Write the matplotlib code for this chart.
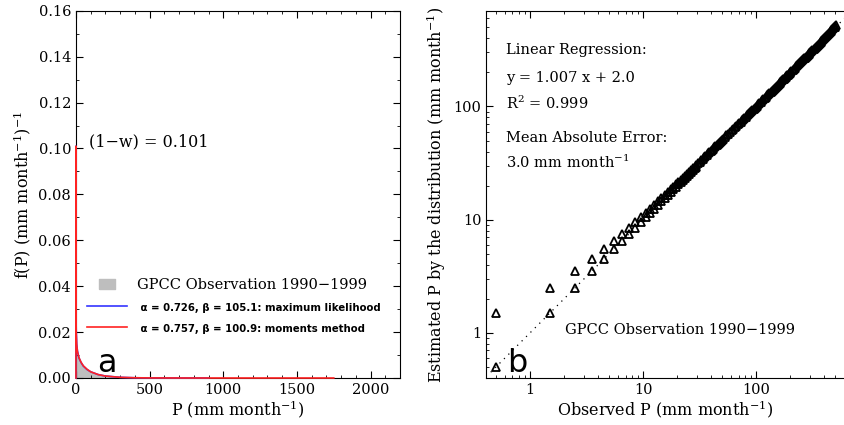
import numpy as np
import matplotlib
matplotlib.use('Agg')
import matplotlib.pyplot as plt
from matplotlib.lines import Line2D
from matplotlib.ticker import MultipleLocator, LogLocator, FuncFormatter, NullFormatter

plt.rcParams['font.family'] = 'DejaVu Serif'
plt.rcParams['mathtext.fontset'] = 'dejavuserif'

# %% panel a: observed histogram (10 mm bins) and fitted mixed gamma pdfs
hist_edges = [0, 10, 20, 30, 40, 50, 60, 70, 80, 90, 100, 110, 120, 130, 140, 150,
              160, 170, 180, 190, 200, 220, 240, 260, 280, 300, 340]
hist_dens = [0.0125, 0.0095, 0.0078, 0.0066, 0.0056, 0.0048, 0.0042, 0.0036, 0.0031,
             0.0027, 0.0024, 0.0021, 0.0018, 0.0016, 0.0014, 0.0012, 0.0011, 0.0009,
             0.0008, 0.0007, 0.0006, 0.0005, 0.0004, 0.0003, 0.00025, 0.0002]

p_ml = [0, 0, 1, 2, 5, 10, 20, 35, 50, 75, 100, 150, 200, 300, 400, 500, 700, 900]
f_ml = [0, 0.101, 0.0241, 0.0205, 0.0149, 0.0118, 0.0088, 0.0067, 0.0052, 0.0037,
        0.0027, 0.0015, 0.00085, 0.00029, 0.0001, 0.00004, 0.000005, 0]
p_mm = [0, 0, 1, 2, 5, 10, 20, 35, 50, 75, 100, 150, 200, 300, 400, 500, 750, 1000, 1750]
f_mm = [0, 0.101, 0.0222, 0.0190, 0.0144, 0.0116, 0.0089, 0.0068, 0.0053, 0.0038,
        0.0027, 0.0015, 0.00085, 0.00029, 0.0001, 0.000035, 0.000003, 0, 0]

# %% panel b: quantile comparison, observed vs estimated (mm/month)
obs_p = [0.5, 0.5, 1.5, 1.5, 2.5, 2.5, 3.5, 3.5, 4.5, 4.5, 5.5, 5.5, 6.5, 6.5,
         7.5, 7.5, 8.5, 8.5, 9.5, 9.5, 10.5, 10.5, 11.5, 11.5, 12.5, 12.5,
         13.5, 13.5, 14.5, 14.5, 15.5, 15.5, 16.5, 16.5, 17.5, 17.5, 18.5, 18.5,
         19.5, 19.5, 20.5, 20.5, 21.5, 21.5, 22.5, 22.5, 23.5, 23.5, 24.5, 24.5,
         25.5, 25.5, 26.5, 26.5, 27.5, 27.5, 28.5, 28.5, 29.5, 29.5,
         30.5, 31.5, 32.5, 33.5, 34.5, 35.5, 36.5, 37.5, 38.5, 39.5, 40.5, 41.5,
         42.5, 43.5, 44.5, 45.5, 46.5, 47.5, 48.5, 49.5, 50.5,
         52.5, 54.5, 56.5, 58.5, 60.5, 62.5, 64.5, 66.5, 68.5, 70.5, 72.5, 74.5,
         76.5, 78.5, 80.5, 82.5, 84.5, 86.5, 88.5, 90.5, 92.5, 94.5, 96.5, 98.5,
         100.5,
         103.5, 106.5, 109.5, 112.5, 115.5, 118.5, 121.5, 124.5, 127.5, 130.5,
         133.5, 136.5, 139.5, 142.5, 145.5, 148.5, 151.5, 154.5, 157.5, 160.5,
         163.5, 166.5, 169.5, 172.5, 175.5, 178.5, 181.5, 184.5, 187.5, 190.5,
         193.5, 196.5, 199.5,
         204.5, 209.5, 214.5, 219.5, 224.5, 229.5, 234.5, 239.5, 244.5, 249.5,
         254.5, 259.5, 264.5, 269.5, 274.5, 279.5, 284.5, 289.5, 294.5, 299.5,
         306.5, 313.5, 320.5, 327.5, 334.5, 341.5, 348.5, 355.5, 362.5, 369.5,
         376.5, 383.5, 390.5, 397.5, 404.5,
         412.5, 420.5, 428.5, 436.5, 444.5, 452.5, 460.5, 468.5, 476.5, 484.5,
         492.5, 500.5, 505.5]
est_p = [0.5, 1.5, 1.5, 2.5, 2.5, 3.5, 3.5, 4.5, 4.5, 5.5, 5.5, 6.5, 6.5, 7.5,
         7.5, 8.5, 8.5, 9.5, 9.5, 10.5, 10.5, 11.5, 11.5, 12.5, 12.5, 13.5,
         13.5, 14.5, 14.5, 15.5, 15.5, 16.5, 16.5, 17.5, 17.5, 18.5, 18.5, 19.5,
         19.5, 20.5, 20.5, 21.5, 21.5, 22.5, 22.5, 23.5, 23.5, 24.5, 24.5, 25.5,
         25.5, 26.5, 26.5, 27.5, 27.5, 28.5, 28.5, 29.5, 29.5, 30.5,
         31.5, 32.5, 33.5, 34.5, 35.5, 36.5, 37.5, 38.5, 39.5, 40.5, 41.5, 42.5,
         43.5, 44.5, 45.5, 46.5, 47.5, 48.5, 49.5, 50.5, 51.5,
         53.5, 55.5, 57.5, 59.5, 61.5, 63.5, 65.5, 67.5, 69.5, 71.5, 73.5, 75.5,
         77.5, 79.5, 81.5, 83.5, 85.5, 87.5, 89.5, 91.5, 93.5, 95.5, 97.5, 99.5,
         101.5,
         104.5, 107.5, 110.5, 113.5, 116.5, 119.5, 122.5, 125.5, 128.5, 131.5,
         134.5, 137.5, 140.5, 143.5, 146.5, 149.5, 152.5, 155.5, 158.5, 161.5,
         164.5, 167.5, 170.5, 173.5, 176.5, 179.5, 182.5, 185.5, 188.5, 191.5,
         194.5, 197.5, 200.5,
         205.5, 210.5, 215.5, 220.5, 225.5, 230.5, 235.5, 240.5, 245.5, 250.5,
         255.5, 260.5, 265.5, 270.5, 275.5, 280.5, 285.5, 290.5, 295.5, 300.5,
         308.5, 315.5, 322.5, 330.5, 337.5, 344.5, 351.5, 359.5, 366.5, 373.5,
         381.5, 388.5, 396.5, 403.5, 411.5,
         420.5, 429.5, 438.5, 446.5, 455.5, 464.5, 473.5, 482.5, 491.5, 499.5,
         508.5, 517.5, 523.5]
one_to_one = [0.45, 600]

fig = plt.figure(figsize=(8.44, 4.25), dpi=100)
ax1 = fig.add_axes([0.090, 0.1106, 0.384, 0.864])
ax2 = fig.add_axes([0.576, 0.1106, 0.4235, 0.864])

# --- panel a
widths = np.diff(hist_edges)
ax1.bar(hist_edges[:-1], hist_dens, width=widths, align='edge', color='#bebebe',
        edgecolor='none', linewidth=0)
ax1.plot(p_ml, f_ml, color='#3535ff', lw=1.2, zorder=3, clip_on=False)
ax1.plot(p_mm, f_mm, color='#ff2222', lw=1.2, zorder=3.1, clip_on=False)
ax1.set_xlim(0, 2200)
ax1.set_ylim(0, 0.16)
ax1.xaxis.set_major_locator(MultipleLocator(500))
ax1.xaxis.set_minor_locator(MultipleLocator(100))
ax1.yaxis.set_major_locator(MultipleLocator(0.02))
ax1.yaxis.set_minor_locator(MultipleLocator(0.01))
ax1.yaxis.set_major_formatter(FuncFormatter(lambda v, _: f'{v:.2f}'))
ax1.tick_params(which='both', direction='in', top=True, right=True, labelsize=10.5)
ax1.tick_params(which='major', length=5)
ax1.tick_params(which='minor', length=2.5)
ax1.set_xlabel('P (mm month$^{-1}$)', fontsize=11.5, labelpad=1)
ax1.set_ylabel('f(P) (mm month$^{-1}$)$^{-1}$', fontsize=11.5, labelpad=4)
ax1.text(0.04, 0.643, '(1\u2212w) = 0.101', transform=ax1.transAxes, fontsize=11.5,
         va='center')
ax1.text(0.065, 0.015, 'a', transform=ax1.transAxes, fontsize=23,
         family='DejaVu Sans', va='baseline')

rect = [(-1.5, -1), (1.5, -1), (1.5, 1), (-1.5, 1), (-1.5, -1)]
handles = [Line2D([], [], marker=rect, color='#bebebe', ls='none', ms=11),
           Line2D([], [], color='#3535ff', lw=1.2),
           Line2D([], [], color='#ff2222', lw=1.2)]
labels = ['GPCC Observation 1990\u22121999',
          ' \u03b1 = 0.726, \u03b2 = 105.1: maximum likelihood',
          ' \u03b1 = 0.757, \u03b2 = 100.9: moments method']
leg = ax1.legend(handles, labels, loc='upper left', bbox_to_anchor=(0.035, 0.273),
                 frameon=False, fontsize=10.5, handlelength=2.7, handletextpad=0.7,
                 labelspacing=0.6, borderpad=0, borderaxespad=0)
for t in leg.get_texts()[1:]:
    t.set_fontfamily('DejaVu Sans')
    t.set_fontweight('bold')
    t.set_fontsize(7.3)

# --- panel b
ax2.plot(one_to_one, one_to_one, color='black', ls=(0, (1, 4)), lw=0.9)
ax2.plot(obs_p, est_p, ls='none', marker='^', ms=5.4, mfc='none', mec='black', mew=1.3)
ax2.set_xscale('log')
ax2.set_yscale('log')
ax2.set_xlim(0.41, 590)
ax2.set_ylim(0.40, 700)
fmt = FuncFormatter(lambda v, _: f'{v:g}')
for axis in (ax2.xaxis, ax2.yaxis):
    axis.set_major_locator(LogLocator(base=10, numticks=10))
    axis.set_minor_locator(LogLocator(base=10, subs=np.arange(2, 10), numticks=10))
    axis.set_major_formatter(fmt)
    axis.set_minor_formatter(NullFormatter())
ax2.spines['right'].set_visible(False)
ax2.tick_params(which='both', direction='in', top=True, right=False, labelsize=10.5)
ax2.tick_params(which='major', length=5)
ax2.tick_params(which='minor', length=2.5)
ax2.set_xlabel('Observed P (mm month$^{-1}$)', fontsize=11.5, labelpad=1)
ax2.set_ylabel('Estimated P by the distribution (mm month$^{-1}$)', fontsize=11.5,
               labelpad=4)
stats = ['Linear Regression:', 'y = 1.007 x + 2.0', 'R$^2$ = 0.999',
         'Mean Absolute Error:', '3.0 mm month$^{-1}$']
stat_y = [0.893, 0.817, 0.749, 0.654, 0.586]
for s, yy in zip(stats, stat_y):
    ax2.text(0.056, yy, s, transform=ax2.transAxes, fontsize=10.5, va='center')
ax2.text(0.222, 0.130, 'GPCC Observation 1990\u22121999', transform=ax2.transAxes,
         fontsize=10.5, va='center')
ax2.text(0.058, 0.015, 'b', transform=ax2.transAxes, fontsize=23,
         family='DejaVu Sans', va='baseline')

fig.savefig('out.png', dpi=100)
